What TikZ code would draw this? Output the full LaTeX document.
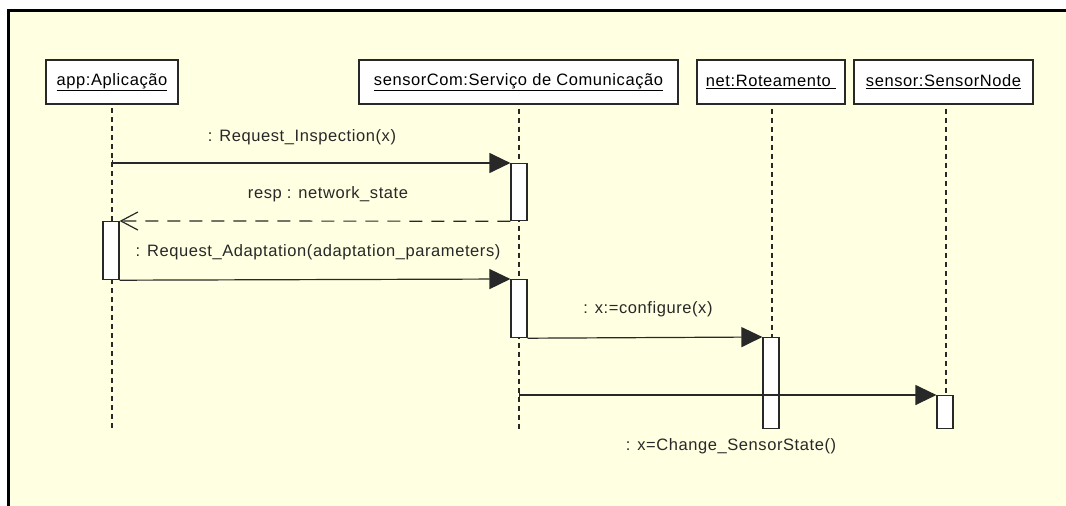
\documentclass[tikz,border=0pt]{standalone}
\usepackage{fontspec}
\setmainfont{Liberation Sans}
\newfontfamily\diafont[LetterSpace=3.5]{Liberation Sans}
\usetikzlibrary{arrows.meta}
\definecolor{bgyellow}{RGB}{255,255,226}
\definecolor{ink}{RGB}{40,40,40}
\tikzset{
  head/.style={draw=ink, line width=1.3pt, fill=white, minimum height=44pt, inner sep=0pt, font=\diafont\fontsize{16.5}{18}\selectfont},
  lifeline/.style={draw=ink, line width=1.2pt, dash pattern=on 5pt off 4pt},
  act/.style={draw=ink, line width=1.2pt, fill=white, minimum width=16pt, inner sep=0pt, anchor=north},
  msg/.style={draw=ink, line width=1.2pt, -{Triangle[length=21pt,width=20pt]}},
  msgstart/.style={draw=ink, line width=1.2pt, {Bar[width=7pt]}-{Triangle[length=21pt,width=20pt]}},
  reply/.style={draw=ink, line width=1.2pt, dash pattern=on 13pt off 9pt, -{Straight Barb[length=17pt,width=18pt,line width=1.2pt]}},
  lbl/.style={font=\diafont\fontsize{16.5}{18}\selectfont, text=ink, inner sep=0pt}
}
\begin{document}
\begin{tikzpicture}[x=1pt,y=-1pt]
\useasboundingbox (0,0) rectangle (1066,506);
\fill[white] (0,0) rectangle (1066,506);
\fill[bgyellow] (8,10) rectangle (1066,506);
\draw[black, line width=3pt] (8,506) -- (8,10) -- (1066,10);

% lifeline heads
\node[head, minimum width=132pt] (app) at (112,82) {\underline{app:Aplicação}};
\node[head, minimum width=319pt] (com) at (518.5,82) {\underline{sensorCom:Serviço de Comunicação}};
\node[head, minimum width=148pt] (net) at (771,82) {\underline{net:Roteamento }};
\node[head, minimum width=179pt] (sen) at (943.5,82) {\underline{sensor:SensorNode}};

% lifeline ends
\coordinate (appE) at (112,428);
\coordinate (comE) at (519,430);
\coordinate (netE) at (772,428);
\coordinate (senE) at (946,428);

\draw[lifeline] (app.south |- 0,108) -- (appE);
\draw[lifeline] (com.south -| comE) ++(0,4) -- (comE);
\draw[lifeline] (net.south -| netE) ++(0,4) -- (netE);
\draw[lifeline] (sen.south -| senE) ++(0,4) -- (senE);

% activations
\node[act, minimum height=57pt] (s1) at (519,163) {};
\node[act, minimum height=58pt] (a1) at (111,221) {};
\node[act, minimum height=58pt] (s2) at (519,279) {};
\node[act, minimum height=91pt] (n1) at (771,337) {};
\node[act, minimum height=33pt] (se1) at (945,395) {};

% messages
\draw[msgstart] (s1.north west -| appE) -- (s1.north west);
\draw[reply] (s1.south west) -- (a1.north east);
\draw[msg] (a1.south east) -- (s2.north west);
\draw[msg] (s2.south east) -- (n1.north west);
\draw[msgstart] (se1.north west -| comE) -- (se1.north west);

% labels
\node[lbl] (l1) at (302,137) {: Request\_Inspection(x)};
\node[lbl] (l2) at (328,194) {resp : network\_state};
\node[lbl] (l3) at (318,252) {: Request\_Adaptation(adaptation\_parameters)};
\node[lbl] (l4) at (648,309) {: x:=configure(x)};
\node[lbl] (l5) at (731,446) {: x=Change\_SensorState()};
\end{tikzpicture}
\end{document}
